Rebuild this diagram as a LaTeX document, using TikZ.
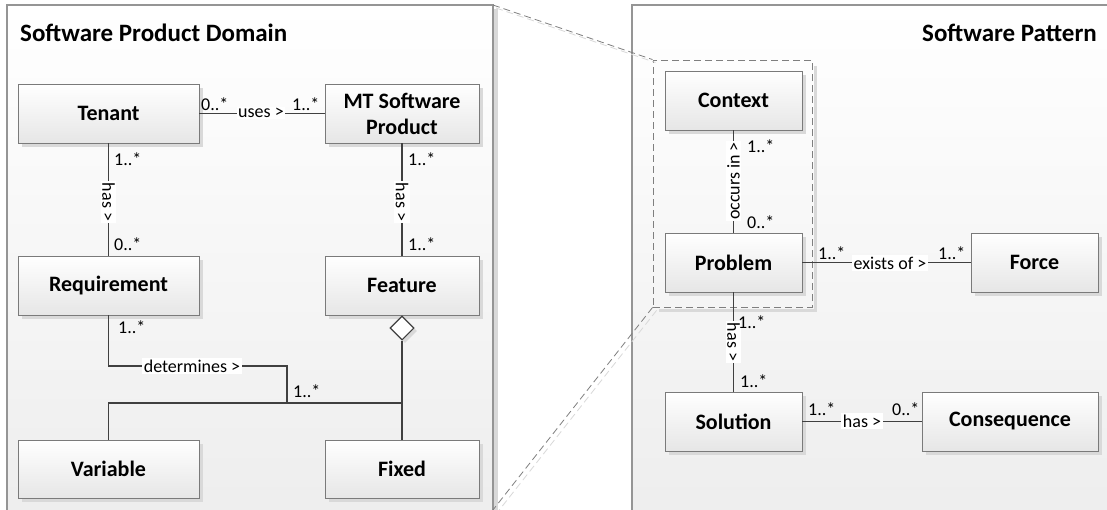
\documentclass[tikz,border=0pt]{standalone}
\usepackage{fontspec}
\setmainfont{Carlito}
\usetikzlibrary{shapes.geometric,shadows,calc}
\definecolor{clsborder}{HTML}{7A7A7A}
\definecolor{clsbot}{HTML}{E6E6E6}
\definecolor{panelborder}{HTML}{959595}
\definecolor{panelbot}{HTML}{EDEDED}
\definecolor{shadowgray}{HTML}{D9D9D9}
\definecolor{linecol}{HTML}{404040}
\definecolor{dashcol}{HTML}{7F7F7F}
\tikzset{
  panel/.style={draw=panelborder, line width=1.2pt, top color=white, bottom color=panelbot},
  paneltitle/.style={font=\fontsize{25}{28}\selectfont\bfseries, inner sep=0pt},
  cls/.style={draw=clsborder, line width=0.9pt, top color=white, bottom color=clsbot,
    font=\fontsize{22}{26}\selectfont\bfseries, align=center, inner sep=2pt,
    drop shadow={shadow xshift=4pt, shadow yshift=-4pt, fill=shadowgray, opacity=1}},
  conn/.style={draw=linecol, line width=1.1pt},
  mult/.style={font=\fontsize{18}{20}\selectfont, inner sep=0pt, anchor=base west},
  assoc/.style={font=\fontsize{18}{20}\selectfont, fill=white, inner sep=1.5pt},
  zoomline/.style={draw=dashcol, line width=0.8pt, dash pattern=on 7pt off 4pt},
  zoomshadow/.style={draw=shadowgray, line width=0.8pt, dash pattern=on 7pt off 4pt},
}
\begin{document}
\begin{tikzpicture}[x=1pt,y=-1pt]
\useasboundingbox (0,0) rectangle (1107,509);
\clip (0,0) rectangle (1107,509);
\fill[white] (0,0) rectangle (1107,509);

% panels
\fill[shadowgray] (11,9) rectangle (498,530);
\draw[panel] (7,5) rectangle (493,530);
\coordinate (lpc) at (493,5);
\fill[shadowgray] (636,9) rectangle (1130,530);
\draw[panel] (632,5) rectangle (1125,530);

\node[paneltitle, anchor=base west] (t1) at (20,41) {Software Product Domain};
\node[paneltitle, anchor=base east] (t2) at (1097,41) {Software Pattern};

% ---------- left panel ----------
\node[cls, minimum width=181pt, minimum height=59pt] (tenant) at (108.5,113.5) {Tenant};
\node[cls, minimum width=154pt, minimum height=59pt] (mt) at (402,113.5) {MT Software\\Product};
\node[cls, minimum width=181pt, minimum height=59pt] (req) at (108.5,285.5) {Requirement};
\node[cls, minimum width=154pt, minimum height=59pt] (feature) at (402,285.5) {Feature};
\node[cls, minimum width=181pt, minimum height=58pt] (var) at (108.5,469) {Variable};
\node[cls, minimum width=154pt, minimum height=58pt] (fixed) at (402,469) {Fixed};

\draw[conn] (tenant.east) -- (mt.west);
\node[assoc] (luses) at (261,113) {uses >};
\node[mult] (m1) at (201,110) {0..*};
\node[mult] (m2) at (292,110) {1..*};

\draw[conn] (tenant.south) -- (req.north);
\node[assoc, rotate=-90] (lhas1) at (108.5,202) {has >};
\node[mult] (m3) at (114,165) {1..*};
\node[mult] (m4) at (114,250) {0..*};

\draw[conn] (mt.south) -- (feature.north);
\node[assoc, rotate=-90] (lhas2) at (402,202) {has >};
\node[mult] (m5) at (408,165) {1..*};
\node[mult] (m6) at (408,250) {1..*};

\node[diamond, draw=linecol, line width=1.1pt, fill=white, minimum width=24pt, minimum height=24pt,
  inner sep=0pt, anchor=north, drop shadow={shadow xshift=3pt, shadow yshift=-3pt, fill=shadowgray, opacity=1}]
  (agg) at (feature.south) {};
\coordinate (bend) at (287,366);
\coordinate (hub) at (287,403);
\draw[conn] (req.south) |- (bend) -- (hub);
\draw[conn] (var.north) |- (agg.south |- hub);
\draw[conn] (agg.south) -- (fixed.north);
\node[assoc] (ldet) at (192,366) {determines >};
\node[mult] (m7) at (118,333) {1..*};
\node[mult] (m8) at (293,397) {1..*};

% ---------- right panel ----------
\node[draw=dashcol, line width=0.9pt, dash pattern=on 7pt off 4pt, minimum width=159pt, minimum height=247pt,
  inner sep=0pt] (focus) at (732.5,183.5) {};
\draw[shadowgray, line width=3pt] ($(focus.north east)+(3,6)$) -- ($(focus.south east)+(3,3)$) -- ($(focus.south west)+(6,3)$);

\draw[zoomshadow] ($(lpc)+(3,3)$) -- ($(focus.north west)+(3,3)$);
\draw[zoomline] (lpc) -- (focus.north west);
\coordinate (lbot) at (485,520);
\draw[zoomshadow] ($(focus.south west)+(4,3)$) -- ($(lbot)+(4,3)$);
\draw[zoomline] (focus.south west) -- (lbot);

\node[cls, minimum width=137pt, minimum height=59pt] (context) at (733.5,100.5) {Context};
\node[cls, minimum width=137pt, minimum height=59pt] (problem) at (733.5,262.5) {Problem};
\node[cls, minimum width=127pt, minimum height=59pt] (force) at (1034.5,262.5) {Force};
\node[cls, minimum width=137pt, minimum height=59pt] (solution) at (733.5,421.5) {Solution};
\node[cls, minimum width=176pt, minimum height=59pt] (conseq) at (1010,421.5) {Consequence};

\draw[conn] (context.south) -- (problem.north);
\node[assoc, rotate=90] (locc) at (733.5,181) {occurs in >};
\node[mult] (m9) at (747,152) {1..*};
\node[mult] (m10) at (747,228) {0..*};

\draw[conn] (problem.east) -- (force.west);
\node[assoc] (lexists) at (890,263) {exists of >};
\node[mult] (m11) at (818,259) {1..*};
\node[mult] (m12) at (938,259) {1..*};

\draw[conn] (problem.south) -- (solution.north);
\node[assoc, rotate=-90] (lhas3) at (733.5,342) {has >};
\node[mult] (m13) at (738,328) {1..*};
\node[mult] (m14) at (740,387) {1..*};

\draw[conn] (solution.east) -- (conseq.west);
\node[assoc] (lhas4) at (862,421) {has >};
\node[mult] (m15) at (808,415) {1..*};
\node[mult] (m16) at (892,415) {0..*};
\end{tikzpicture}
\end{document}
